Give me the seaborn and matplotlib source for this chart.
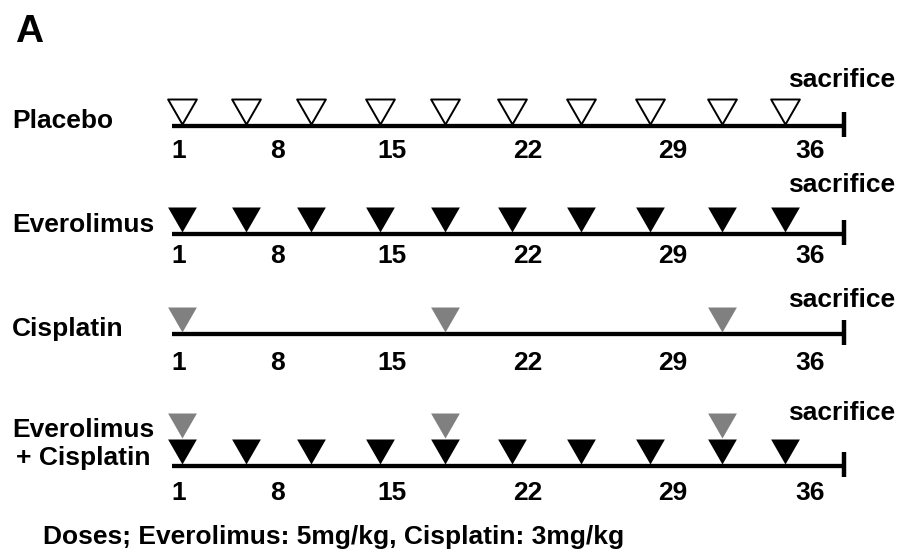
import pandas as pd
import matplotlib.pyplot as plt
from matplotlib.path import Path
from matplotlib.markers import MarkerStyle
import seaborn as sns

# --- data (schematic day positions) ---
groups = ["Placebo", "Everolimus", "Cisplatin", "Everolimus\n+ Cisplatin"]
everolimus_days = [1, 4.6, 8.3, 12.2, 15.9, 19.7, 23.6, 27.5, 31.6, 35.2]
cisplatin_days = [1, 15.9, 31.6]
day_labels = ["1", "8", "15", "22", "29", "36"]
day_label_pos = [0.8, 6.4, 12.9, 20.6, 28.8, 36.6]
start_day = 0.4
sacrifice_day = 38.5
end_label = "sacrifice"
note = "Doses; Everolimus: 5mg/kg, Cisplatin: 3mg/kg"

# which drug each group gets, and whether the mark is stacked above another
doses = []
for d in everolimus_days:
    doses.append({"group": "Placebo", "day": d, "drug": "placebo", "level": 0})
    doses.append({"group": "Everolimus", "day": d, "drug": "everolimus", "level": 0})
    doses.append({"group": "Everolimus\n+ Cisplatin", "day": d, "drug": "everolimus", "level": 0})
for d in cisplatin_days:
    doses.append({"group": "Cisplatin", "day": d, "drug": "cisplatin", "level": 0})
    doses.append({"group": "Everolimus\n+ Cisplatin", "day": d, "drug": "cisplatin", "level": 1})
doses = pd.DataFrame(doses)

# --- layout (pixels from the top of the 903x555 image) ---
W, H = 903, 555
line_y = [125.5, 234, 334, 466]
name_base = [128, 232, 336, 465]   # baseline of the last line of the name
tick_base = [158, 263, 370, 500]
sac_base = [87, 192, 307, 420]

styles = {
    "placebo": dict(color="white", edgecolor="black", linewidth=1.4),
    "everolimus": dict(color="black", edgecolor="black", linewidth=0),
    "cisplatin": dict(color="#808080", edgecolor="#808080", linewidth=0),
}

sns.set_style("white")
plt.rcParams["font.family"] = ["Liberation Sans", "DejaVu Sans"]
plt.rcParams["text.color"] = "black"

fig = plt.figure(figsize=(W / 100, H / 100), dpi=100)
ax = fig.add_axes([0, 0, 1, 1])
ax.axis("off")

# downward triangle with its tip at the anchor point
tri = MarkerStyle(Path([(-1.15, 2), (1.15, 2), (0, 0), (-1.15, 2)], closed=True))
ms = 36

row_of = {g: i for i, g in enumerate(groups)}
doses["y"] = [line_y[row_of[g]] - 2 - 26 * lv for g, lv in zip(doses["group"], doses["level"])]

for i, g in enumerate(groups):
    y = line_y[i]
    ax.plot([start_day, sacrifice_day], [y, y], color="black", lw=3.1,
            solid_capstyle="butt", zorder=1)
    ax.plot([sacrifice_day, sacrifice_day], [y - 14, y + 11], color="black", lw=3.2,
            solid_capstyle="butt", zorder=1)
    for lab, pos in zip(day_labels, day_label_pos):
        ax.text(pos, tick_base[i], lab, ha="center", va="baseline",
                fontsize=19, fontweight="bold")
    fig.text(12 / W, 1 - name_base[i] / H, g, ha="left", va="baseline",
             multialignment="center", fontsize=19, fontweight="bold",
             linespacing=1.2)
    fig.text(788 / W, 1 - sac_base[i] / H, end_label, ha="left", va="baseline",
             fontsize=19, fontweight="bold")

for drug, sub in doses.groupby("drug"):
    sns.scatterplot(data=sub, x="day", y="y", marker=tri, s=ms ** 2, ax=ax,
                    legend=False, zorder=3, **styles[drug])

fig.text(15 / W, 1 - 42 / H, "A", ha="left", va="baseline", fontsize=28,
         fontweight="bold")
fig.text(43 / W, 1 - 544 / H, note, ha="left", va="baseline", fontsize=19,
         fontweight="bold")

ax.set_xlim(-9.35, 41.87)
ax.set_ylim(H, 0)
fig.savefig("out.png", dpi=100, facecolor="white")
